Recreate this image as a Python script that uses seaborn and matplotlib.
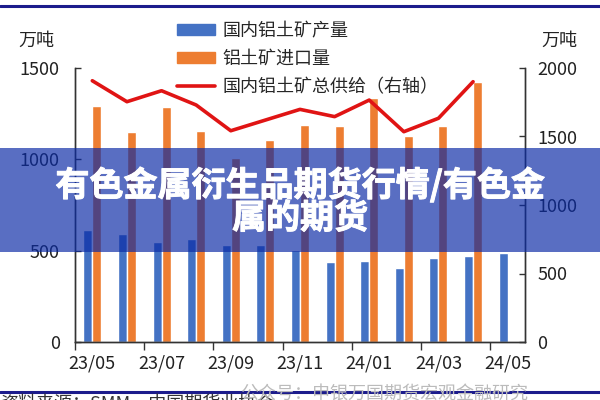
# Bauxite supply: domestic output, imports and total supply (right axis)
import numpy as np
import pandas as pd
import seaborn as sns
import matplotlib.pyplot as plt
import matplotlib.patheffects as pe
from matplotlib.patches import Patch, Rectangle
from matplotlib.lines import Line2D

months = ['23/05', '23/06', '23/07', '23/08', '23/09', '23/10', '23/11',
          '23/12', '24/01', '24/02', '24/03', '24/04', '24/05']
domestic = [613, 591, 545, 563, 531, 531, 502, 440, 445, 403, 458, 471, 489]
imports = [1292, 1151, 1284, 1157, 1005, 1106, 1188, 1182, 1335, 1127, 1182, 1425, np.nan]
total_supply = [1907, 1754, 1834, 1730, 1542, 1620, 1698, 1645, 1766, 1535, 1633, 1900]

series_names = ['国内铝土矿产量', '铝土矿进口量', '国内铝土矿总供给（右轴）']
blue, orange, red = '#4472C4', '#ED7D31', '#E01414'

sns.set_theme(style='white')
plt.rcParams['font.family'] = ['Noto Sans CJK SC', 'DejaVu Sans']

df = pd.DataFrame({
    'month': months * 2,
    'value': domestic + imports,
    'series': [series_names[0]] * len(months) + [series_names[1]] * len(months),
})

fig = plt.figure(figsize=(6, 4), dpi=100)
ax = fig.add_axes([0.125, 0.145, 0.75, 0.685])

sns.barplot(data=df, x='month', y='value', hue='series',
            palette=[blue, orange], width=0.52, saturation=1,
            legend=False, ax=ax)

ax2 = ax.twinx()
sns.lineplot(x=np.arange(len(total_supply)), y=total_supply,
             color=red, lw=2.6, ax=ax2)

ax.set_xlim(-0.5, len(months) - 0.5)
ax.set_ylim(0, 1500)
ax2.set_ylim(0, 2000)
ax.set_yticks([0, 500, 1000, 1500])
ax2.set_yticks([0, 500, 1000, 1500, 2000])
ax.set_xlabel('')
ax.set_ylabel('')
ax2.set_ylabel('')

# ticks between groups, labels on every other month
ax.set_xticks(np.arange(-0.5, len(months) - 1, 2))
ax.set_xticklabels([])
ax.set_xticks(np.arange(0, len(months), 2), minor=True)
ax.set_xticklabels(months[::2], minor=True)
ax.tick_params(axis='x', which='major', bottom=True, direction='out',
               length=6, width=1, color='#333333')
ax.tick_params(axis='x', which='minor', bottom=True, length=0, pad=9,
               labelsize=13, labelcolor='#222222')
ax.tick_params(axis='y', left=True, direction='in', length=4, width=1,
               color='#333333', pad=11, labelsize=13, labelcolor='#222222')
ax2.tick_params(axis='y', right=True, direction='in', length=4, width=1,
                color='#333333', pad=9, labelsize=13, labelcolor='#222222')

for a in (ax, ax2):
    a.spines['top'].set_visible(False)
    for s in ('left', 'right', 'bottom'):
        a.spines[s].set_color('#333333')
        a.spines[s].set_linewidth(1)

fig.text(0.06, 0.897, '万吨', ha='center', va='center', fontsize=13, color='#222222')
fig.text(0.933, 0.897, '万吨', ha='center', va='center', fontsize=13, color='#222222')

handles = [Patch(color=blue), Patch(color=orange), Line2D([0], [0], color=red, lw=2.6)]
fig.legend(handles, series_names, loc='upper left', bbox_to_anchor=(0.295, 0.945),
           frameon=False, fontsize=13, handlelength=2.1, handleheight=0.55,
           handletextpad=0.4, labelspacing=0.55, borderpad=0, borderaxespad=0)

# header / footer rules
fig.add_artist(Line2D([0, 1], [0.985, 0.985], color='#1c1c8c', lw=2.2))
fig.add_artist(Line2D([0, 1], [0.02, 0.02], color='#1c1c8c', lw=2.2))
fig.text(0.0, 0.014, '资料来源：SMM，中国期货业协会', va='top', fontsize=13, color='#333333')
fig.text(0.4, 0.036, '公众号：申银万国期货宏观金融研究', va='top', fontsize=13,
         color='#bbbbbb', zorder=6)

# overlay banner
fig.add_artist(Rectangle((0, 0.37), 1, 0.26, transform=fig.transFigure,
                         facecolor='#0a2aa5', alpha=0.68, edgecolor='none', zorder=5))
bold = [pe.withStroke(linewidth=0.7, foreground='white')]
fig.text(0.5, 0.537, '有色金属衍生品期货行情/有色金', ha='center', va='center',
         fontsize=24.5, fontweight='black', color='white', zorder=6, path_effects=bold)
fig.text(0.5, 0.455, '属的期货', ha='center', va='center',
         fontsize=24.5, fontweight='black', color='white', zorder=6, path_effects=bold)

fig.savefig('out.png', dpi=100)
